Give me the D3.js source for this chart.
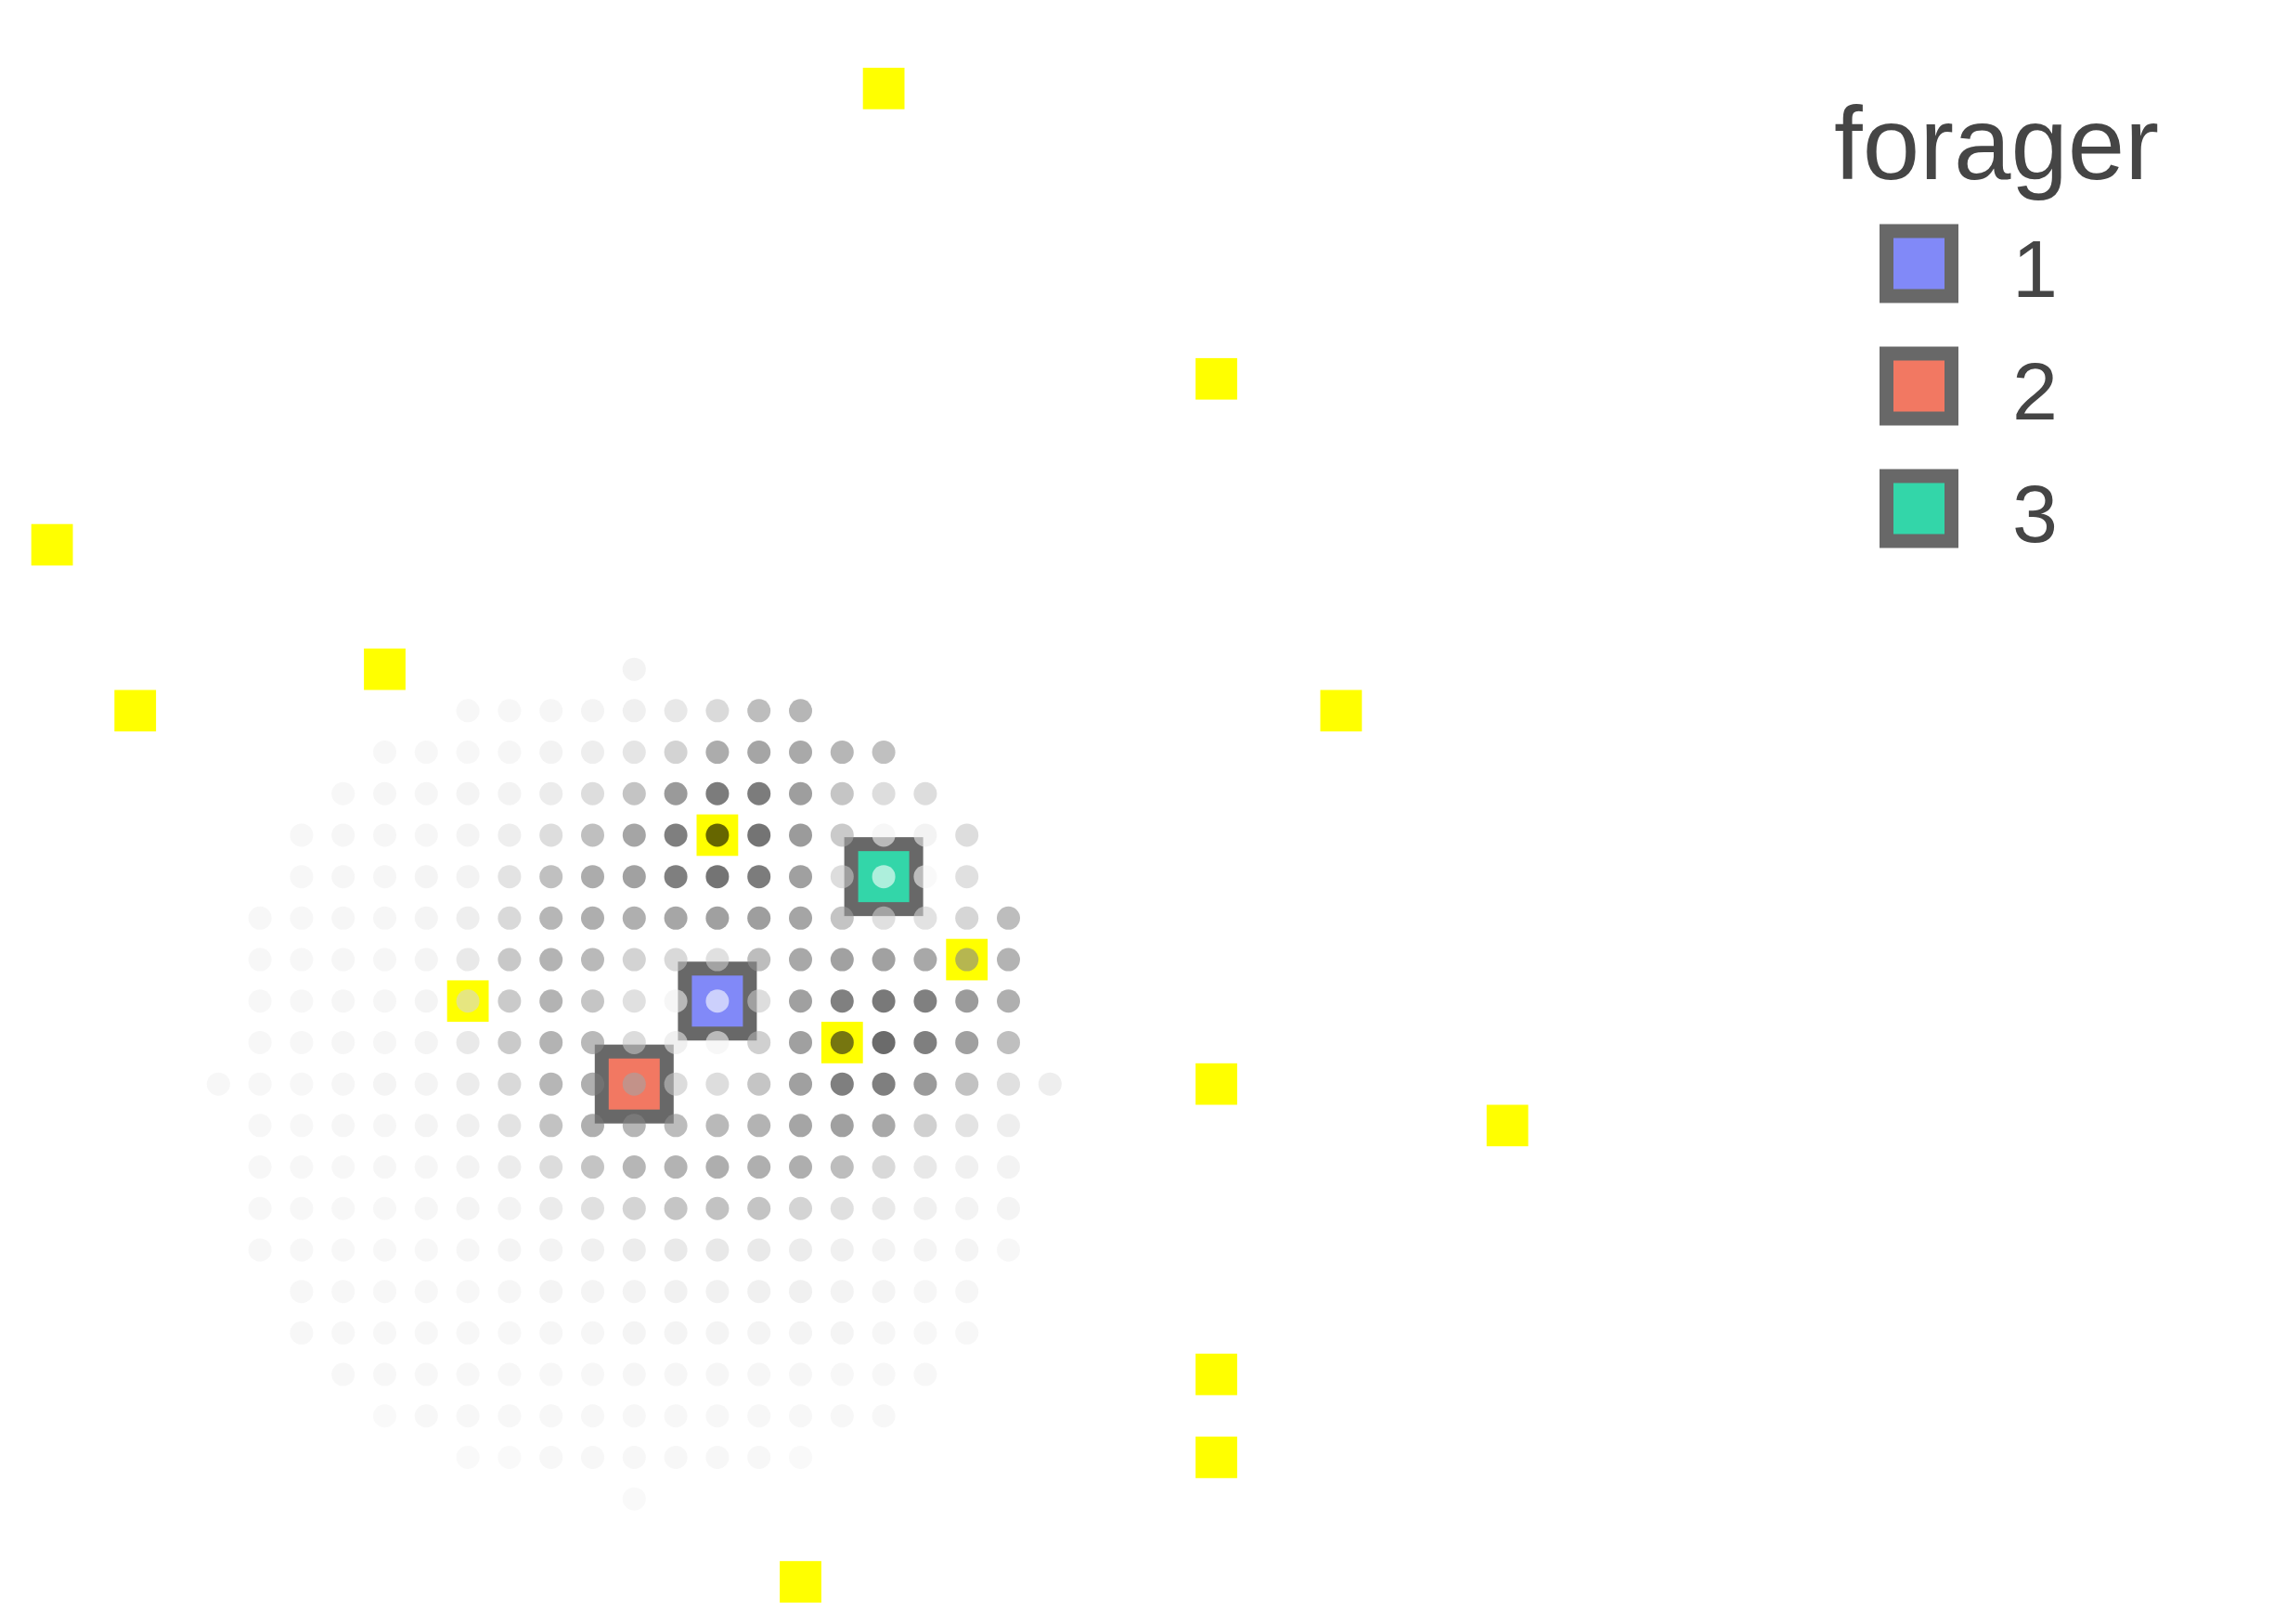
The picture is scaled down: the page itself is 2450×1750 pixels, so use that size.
<!DOCTYPE html>
<html>
<head>
<meta charset="utf-8">
<script src="https://cdn.jsdelivr.net/npm/d3@7"></script>
<style>
  html, body { margin: 0; padding: 0; background: #ffffff; }
  svg { display: block; }
</style>
</head>
<body>
<svg id="chart" width="2450" height="1750"></svg>
<script>
// ---------- DATA ----------
// Resource tiles (yellow) in grid coordinates
const resourceX = [6, 14, -14, -12, -6, 17, 2, 8, -4, 5, 14, 21, 14, 14, 4];
const resourceY = [24, 17, 13, 9, 10, 9, 6, 3, 2, 1, 0, -1, -7, -9, -12];

// Foragers
const foragerIds = ["1", "2", "3"];
const foragerX = [2, 0, 6];
const foragerY = [2, 0, 5];
const foragerColors = ["#8189f8", "#f27862", "#33d6a9"];

// Intensity field (0-100) on a disc of radius 10 around forager 2.
// Rows from y = 10 down to y = -10; each row runs from x = -r to x = r.
const fieldRowsY = [10, 9, 8, 7, 6, 5, 4, 3, 2, 1, 0, -1, -2, -3, -4, -5, -6, -7, -8, -9, -10];
const fieldRows = [
  [8],
  [5,5,6,7,10,15,24,43,48],
  [5,5,5,6,8,11,17,29,54,59,56,48,41],
  [5,6,6,7,8,12,22,39,66,86,86,63,38,22,22],
  [5,6,6,6,7,11,22,42,59,84,100,91,65,35,5,8,22],
  [5,6,6,7,8,18,41,54,61,84,91,86,62,22,0,4,20],
  [5,5,6,6,7,11,25,48,53,52,58,62,63,59,39,20,19,27,43],
  [5,5,6,6,7,14,36,50,46,29,25,20,43,57,61,61,57,48,50],
  [5,5,6,6,7,16,35,50,38,20,6,0,22,62,83,88,83,65,52],
  [5,5,6,6,7,14,35,50,46,23,10,5,31,62,90,97,84,62,42],
  [5,5,5,6,7,7,12,25,48,52,36,23,22,38,62,84,84,66,40,20,11],
  [5,5,6,6,7,10,18,40,52,48,44,46,50,59,62,57,31,18,11],
  [5,5,5,6,6,8,12,23,39,48,50,53,52,53,43,25,15,10,8],
  [5,5,5,5,6,7,8,13,20,28,38,40,39,28,20,14,10,8,7],
  [5,5,5,5,5,6,7,8,10,12,14,15,14,12,10,8,7,7,5],
  [5,5,5,5,5,6,7,7,8,9,9,10,10,8,7,6,6],
  [5,5,5,5,5,5,6,6,7,7,7,7,7,7,6,5,5],
  [5,5,5,5,5,5,5,6,6,6,6,6,5,5,5],
  [4,5,5,5,5,5,5,5,5,5,5,5,5],
  [4,4,5,5,5,5,5,5,4],
  [4]
];

const legendTitle = "forager";

// ---------- BUILD ----------
const field = [];
fieldRows.forEach((row, i) => {
  const r = (row.length - 1) / 2;
  row.forEach((v, j) => field.push({ x: j - r, y: fieldRowsY[i], v: v }));
});
const resources = resourceX.map((d, i) => ({ x: d, y: resourceY[i] }));
const foragers = foragerIds.map((id, i) => ({ id: id, x: foragerX[i], y: foragerY[i], color: foragerColors[i] }));

const svg = d3.select("#chart");

const x = d3.scaleLinear().domain([-14.5, 21.5]).range([33.7, 1646.5]);
const y = d3.scaleLinear().domain([-12.5, 24.5]).range([1726.9, 73.0]);
const shade = d3.scaleLinear().domain([0, 100]).range(["#ffffff", "#000000"]);
const color = d3.scaleOrdinal().domain(foragerIds).range(foragerColors);

const tileW = x(0.5) - x(-0.5);
const tileH = y(-0.5) - y(0.5);

// Resource tiles
svg.append("g").selectAll("rect")
  .data(resources).join("rect")
  .attr("x", d => x(d.x) - tileW / 2)
  .attr("y", d => y(d.y) - tileH / 2)
  .attr("width", tileW)
  .attr("height", tileH)
  .attr("fill", "#ffff00");

// Foragers
const fSize = 70, fStroke = 15;
svg.append("g").selectAll("rect")
  .data(foragers).join("rect")
  .attr("x", d => x(d.x) - fSize / 2)
  .attr("y", d => y(d.y) - fSize / 2)
  .attr("width", fSize)
  .attr("height", fSize)
  .attr("fill", d => color(d.id))
  .attr("stroke", "#686868")
  .attr("stroke-width", fStroke);

// Field dots
svg.append("g").selectAll("circle")
  .data(field).join("circle")
  .attr("cx", d => x(d.x))
  .attr("cy", d => y(d.y))
  .attr("r", 12.5)
  .attr("fill", d => shade(d.v))
  .attr("fill-opacity", 0.6);

// Legend
const legend = svg.append("g").attr("font-family", "'Liberation Sans', Arial, sans-serif");
legend.append("text")
  .attr("x", 1976)
  .attr("y", 193)
  .attr("font-size", 110.5)
  .attr("fill", "#454545")
  .text(legendTitle);

const keyY = d3.scalePoint().domain(foragerIds).range([284, 548]);
const keys = legend.selectAll("g.key").data(foragers).join("g").attr("class", "key");
keys.append("rect")
  .attr("x", 2067.5 - fSize / 2)
  .attr("y", d => keyY(d.id) - fSize / 2)
  .attr("width", fSize)
  .attr("height", fSize)
  .attr("fill", d => color(d.id))
  .attr("stroke", "#686868")
  .attr("stroke-width", fStroke);
keys.append("text")
  .attr("x", 2168)
  .attr("y", d => keyY(d.id) + 35.5)
  .attr("font-size", 88)
  .attr("fill", "#454545")
  .text(d => d.id);
</script>
</body>
</html>
